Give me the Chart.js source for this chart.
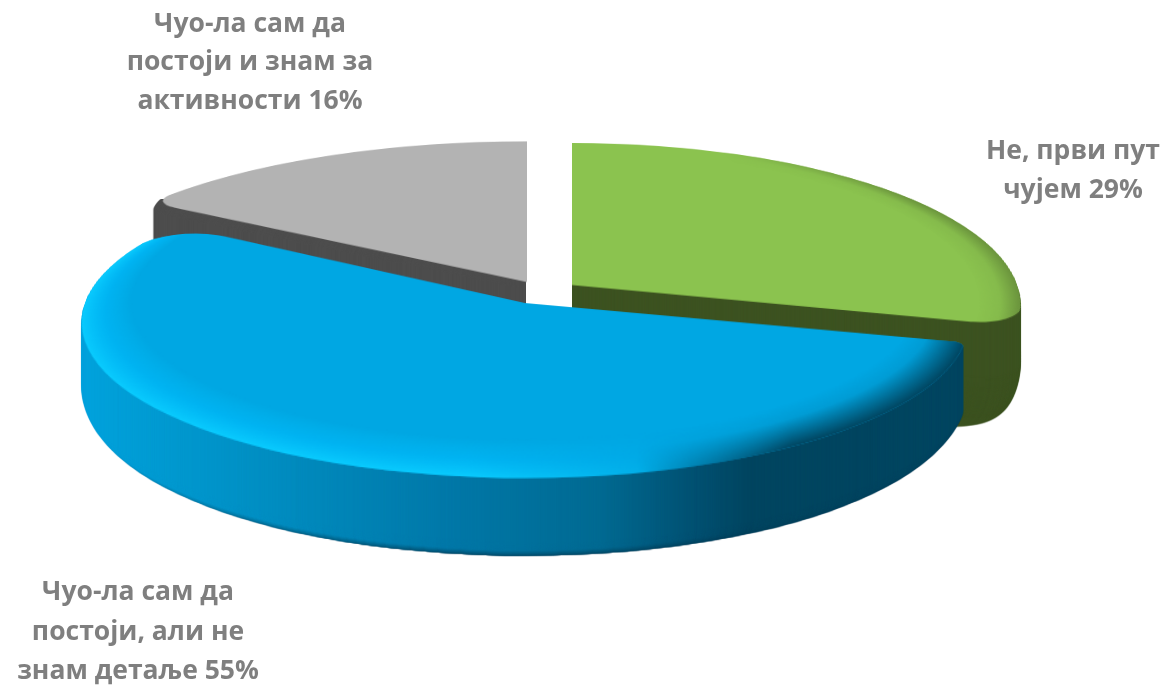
<!DOCTYPE html>
<html><head><meta charset="utf-8">
<style>html,body{margin:0;padding:0;background:#fff}canvas{display:block}</style>
<script src="https://cdn.jsdelivr.net/npm/chart.js@4"></script></head>
<body><canvas id="c" width="1167" height="691"></canvas>
<script>
const categories = ['Не, први пут чујем', 'Чуо-ла сам да постоји, али не знам детаље', 'Чуо-ла сам да постоји и знам за активности'];
const shares = [29, 55, 16];
const topColors = ['#8BC34F', '#00A7E3', '#B3B3B3'];
const sideColors = ['#3C5220', '#004560', '#4D4D4D'];
const corners = [
  {outerStart:0, outerEnd:45, innerStart:0, innerEnd:0},
  {outerStart:12, outerEnd:60, innerStart:0, innerEnd:0},
  {outerStart:30, outerEnd:0, innerStart:0, innerEnd:0}
];
// projected placement of each exploded slice
const apexX = [572, 525, 527];
const apexY = [285, 303, 282];
const flatRadius = [445, 440, 475];
const tiltA = [159.5, 153.5, 158];
const perspective = -0.123;
const depths = [107, 86, 86];
const roundDepths = [54, 24, 24];
const roundSizes = [30, 28, 28];
const sideFlare = [0, 0, 12];
const sideClipTop = [0, 0, 199];
const darkBand = 12;
const blueSide = [[80,'#00A3DD'],[250,'#0090C4'],[450,'#0078A8'],[600,'#006A92'],[700,'#004F70'],[750,'#004560'],[1000,'#004560']];
const labelFont = 'bold 26.5px "Open Sans"';
const labelColor = '#7F7F7F';
const labelLines = [
  {x:1073, lines:['Не, први пут','чујем 29%'], y:[151,190]},
  {x:138, lines:['Чуо-ла сам да','постоји, али не','знам детаље 55%'], y:[592,632,671]},
  {x:250, lines:['Чуо-ла сам да','постоји и знам за','активности 16%'], y:[24,62,101]}
];

function mk(w,h){const c=document.createElement('canvas');c.width=w;c.height=h;return c;}
function hex(h){return [1,3,5].map(i=>parseInt(h.substr(i,2),16));}
function mix(a,b,t){const x=hex(a),y=hex(b);return 'rgb('+x.map((v,i)=>Math.round(v+(y[i]-v)*t)).join(',')+')';}

function drawArc(ctx,arc,color){
  const o=arc.options;
  arc.options=Object.assign({},o,{backgroundColor:color});
  arc.draw(ctx);
  arc.options=o;
}
function flatLayer(arc,i){
  const R=flatRadius[i],A=tiltA[i],W=Math.ceil(2*R+20),ys=A/R,H=Math.ceil(W*ys);
  const c=mk(W,H),x=c.getContext('2d');
  x.translate(W/2,H/2);x.scale(1,ys);x.translate(-arc.x,-arc.y);
  return {c,x,W,H};
}
function addRim(L,arc,i,ix,iy,ir,stops,mask){
  const R=flatRadius[i];
  const T=mk(L.W,L.H),x=T.getContext('2d');
  x.setTransform(L.x.getTransform());
  const g=x.createRadialGradient(arc.x+ix,arc.y+iy,ir,arc.x,arc.y,R);
  stops.forEach(s=>g.addColorStop(s[0],s[1]));
  drawArc(x,arc,g);
  if(mask){
    x.globalCompositeOperation='destination-in';
    const m=x.createLinearGradient(arc.x+mask[0],0,arc.x+mask[1],0);
    m.addColorStop(0,mask[2]);m.addColorStop(1,mask[3]);
    x.fillStyle=m;x.fillRect(arc.x-2000,arc.y-2000,4000,4000);
  }
  L.x.save();L.x.setTransform(1,0,0,1,0,0);L.x.drawImage(T,0,0);L.x.restore();
}
function warp(L,i,w,h){
  const out=mk(w,h),x=out.getContext('2d');
  const A=tiltA[i],C=perspective,ax=apexX[i],ay=apexY[i];
  x.imageSmoothingEnabled=true;
  for(let y=0;y<h;y++){
    const yp=y+.5-ay,den=A-C*yp,v=yp/den;
    if(Math.abs(v)>1.05)continue;
    const s=1/(1+C*v),sr=L.H/2+v*A,sh=A*A/(den*den);
    const sy=sr-sh/2;
    if(sy<0||sy+sh>L.H)continue;
    x.drawImage(L.c,0,sy,L.W,sh,ax-(L.W/2)*s,y,L.W*s,1);
  }
  return out;
}
function tinted(S,fill){
  const c=mk(S.width,S.height),x=c.getContext('2d');
  x.drawImage(S,0,0);x.globalCompositeOperation='source-in';
  x.fillStyle=fill;x.fillRect(0,0,c.width,c.height);
  return c;
}
const pseudo3d={
  id:'pseudo3d',
  beforeDatasetsDraw(chart){
    const ctx=chart.ctx,arcs=chart.getDatasetMeta(0).data,w=chart.width,h=chart.height;
    [2,0,1].forEach(i=>{
      const arc=arcs[i],R=flatRadius[i],keep=arc.outerRadius;
      arc.outerRadius=R;
      const L=flatLayer(arc,i);
      drawArc(L.x,arc,topColors[i]);
      if(i===1){
        addRim(L,arc,i,0,-44,R-45,[[0,'rgba(0,200,255,0)'],[.5,'rgba(0,190,255,.5)'],[1,'rgba(10,205,255,.95)']],[-50,150,'rgba(0,0,0,1)','rgba(0,0,0,0)']);
        addRim(L,arc,i,0,-44,R-45,[[0,'rgba(0,69,96,0)'],[.35,'rgba(0,69,96,.1)'],[1,'rgba(0,69,96,1)']],[100,240,'rgba(0,0,0,0)','rgba(0,0,0,1)']);
      }
      if(i===0){
        addRim(L,arc,i,-20,0,R-20,[[0,'rgba(105,145,60,0)'],[.5,'rgba(105,145,60,.15)'],[1,'rgba(105,145,60,.95)']],[170,360,'rgba(0,0,0,0)','rgba(0,0,0,1)']);
      }
      const top=warp(L,i,w,h);
      arc.outerRadius=keep;
      const tints=[];
      for(let k=0;k<=6;k++){
        const t=k/6;let fill;
        if(i===1){
          fill=ctx.createLinearGradient(blueSide[0][0],0,blueSide[blueSide.length-1][0],0);
          blueSide.forEach(s=>{
            const wgt=s[0]<200?.25:(s[0]<400?.7:1);
            fill.addColorStop((s[0]-80)/920,mix(s[1],'#003F5A',t*wgt));
          });
        } else fill=sideColors[i];
        tints.push(tinted(top,fill));
      }
      const ax=apexX[i],ay=apexY[i],depth=depths[i],rd=roundDepths[i],rs=roundSizes[i];
      ctx.save();
      if(sideFlare[i]){ctx.beginPath();ctx.rect(0,sideClipTop[i],ax-1,h);ctx.clip();}
      for(let d=depth;d>=1;d--){
        const t=Math.max(0,(d-(depth-darkBand))/darkBand);
        const u=Math.max(0,(d-(depth-rd))/rd);
        const inset=rs*(1-Math.sqrt(Math.max(0,1-u*u)));
        const flare=sideFlare[i]*Math.sqrt(Math.min(d,8)/8);
        const ky=1-inset/R, kx=1+(flare-inset)/R;
        ctx.save();
        ctx.translate(ax,ay+d);ctx.scale(kx,ky);ctx.translate(-ax,-ay);
        ctx.drawImage(tints[Math.round(t*6)],0,0);
        ctx.restore();
      }
      ctx.restore();
      ctx.drawImage(top,0,0);
    });
    return false;
  },
  afterDraw(chart){
    const ctx=chart.ctx;
    ctx.save();
    ctx.font=labelFont;ctx.fillStyle=labelColor;ctx.textAlign='center';ctx.textBaseline='middle';
    labelLines.forEach(b=>b.lines.forEach((t,j)=>ctx.fillText(t,b.x,b.y[j])));
    ctx.restore();
  }
};
new Chart(document.getElementById('c'),{
  type:'pie',
  data:{labels:categories,datasets:[{data:shares,backgroundColor:topColors,borderWidth:0,borderRadius:corners,radius:450,clip:false}]},
  options:{responsive:false,devicePixelRatio:1,animation:false,plugins:{legend:{display:false},tooltip:{enabled:false}}},
  plugins:[pseudo3d]
});
</script></body></html>
